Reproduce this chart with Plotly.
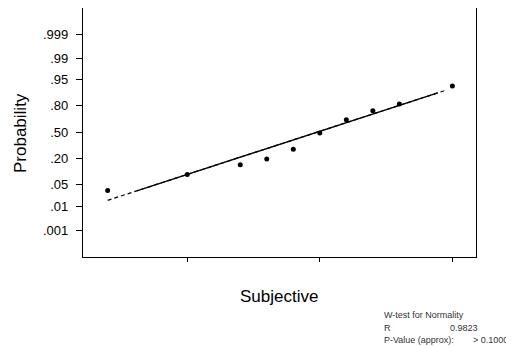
import plotly.graph_objects as go
from statistics import NormalDist

# ---- data ----
subjective = [1.4, 2.0, 2.4, 2.6, 2.8, 3.0, 3.2, 3.4, 3.6, 4.0]
probability = [0.033, 0.091, 0.152, 0.198, 0.296, 0.49, 0.651, 0.751, 0.813, 0.927]
fit_mean = 2.98
fit_sd = 0.736
fit_x_range = [1.4, 3.96]
fit_solid_range = [1.62, 3.89]
prob_ticks = [0.999, 0.99, 0.95, 0.80, 0.50, 0.20, 0.05, 0.01, 0.001]
prob_tick_labels = [".999", ".99", ".95", ".80", ".50", ".20", ".05", ".01", ".001"]
x_ticks = [2, 3, 4]
w_test_r = "0.9823"
w_test_p = "> 0.1000"

nd = NormalDist()
z = lambda p: nd.inv_cdf(p)

pts_z = [z(p) for p in probability]
tick_z = [z(p) for p in prob_ticks]

def line_pts(r):
    xs = [r[0], r[1]]
    return xs, [(x - fit_mean) / fit_sd for x in xs]

fig = go.Figure()
lx, ly = line_pts(fit_x_range)
fig.add_trace(go.Scatter(x=lx, y=ly, mode="lines",
                         line=dict(color="black", width=1.2, dash="4px,3px"),
                         hoverinfo="skip", showlegend=False))
sx, sy = line_pts(fit_solid_range)
fig.add_trace(go.Scatter(x=sx, y=sy, mode="lines",
                         line=dict(color="black", width=1.3),
                         hoverinfo="skip", showlegend=False))
fig.add_trace(go.Scatter(x=subjective, y=pts_z, mode="markers",
                         marker=dict(color="black", size=5),
                         showlegend=False))

# page body has an 8px margin; compensate so window coordinates match
OFF = 8
WIN_W, WIN_H = 514, 346
W, H = WIN_W - OFF, WIN_H - OFF
# plot area in window pixels
PL, PR, PT, PB = 83, 476, 8, 257
L, T = PL - OFF, PT - OFF
R, B = (WIN_W - PR), (WIN_H - PB)
pw, ph = PR - PL, PB - PT

def px(x):
    return (x - PL) / pw

def py(y):
    return (PB - y) / ph

font = "Liberation Sans, Arial, sans-serif"
annots = [
    dict(text="Probability", x=px(20), y=py(133), textangle=-90,
         font=dict(size=17, color="black", family=font)),
    dict(text="Subjective", x=px(278.5), y=py(296),
         font=dict(size=17, color="black", family=font)),
    dict(text="W-test for Normality", x=px(382), y=py(315), xanchor="left",
         font=dict(size=9, color="#333", family=font)),
    dict(text="R", x=px(382), y=py(327.5), xanchor="left",
         font=dict(size=9, color="#333", family=font)),
    dict(text=w_test_r, x=px(480), y=py(327.5), xanchor="right",
         font=dict(size=9, color="#333", family=font)),
    dict(text="P-Value (approx):", x=px(382), y=py(339.5), xanchor="left",
         font=dict(size=9, color="#333", family=font)),
    dict(text=w_test_p, x=px(510), y=py(339.5), xanchor="right",
         font=dict(size=9, color="#333", family=font)),
]
for a in annots:
    a.setdefault("xanchor", "center")
    a.update(xref="paper", yref="paper", yanchor="middle", showarrow=False)

fig.update_layout(
    width=W, height=H,
    margin=dict(l=L, r=R, t=T, b=B, pad=0),
    paper_bgcolor="white", plot_bgcolor="white",
    annotations=annots,
    xaxis=dict(range=[1.214, 4.178], tickvals=x_ticks, ticktext=["", "", ""],
               ticks="outside", ticklen=4, tickcolor="black", tickwidth=1,
               showgrid=False, zeroline=False, showline=True, linecolor="black",
               linewidth=1.3, mirror=True),
    yaxis=dict(range=[-3.931, 3.909], tickvals=tick_z, ticktext=prob_tick_labels,
               ticks="outside", ticklen=6, tickcolor="black", tickwidth=1,
               ticklabelstandoff=5,
               tickfont=dict(size=13, color="black", family=font),
               showgrid=False, zeroline=False, showline=True, linecolor="black",
               linewidth=1.3, mirror=True),
)

fig.write_html("out.html")
